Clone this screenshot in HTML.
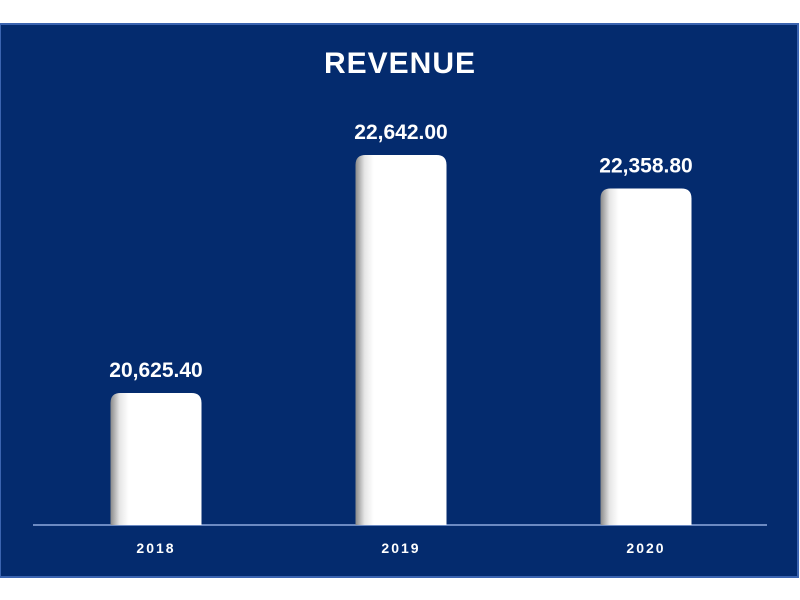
<!DOCTYPE html>
<html><head><meta charset="utf-8"><style>
html,body{margin:0;padding:0;background:#fff;width:800px;height:600px;overflow:hidden}
svg{display:block}
</style></head><body>
<svg width="800" height="600">
<defs>
<linearGradient id="barg" x1="0" x2="1" y1="0" y2="0">
<stop offset="0" stop-color="#8a8a8a"/><stop offset="0.1" stop-color="#e6e6e6"/><stop offset="0.2" stop-color="#fff"/><stop offset="1" stop-color="#fff"/>
</linearGradient>
</defs>
<rect x="0" y="24" width="798" height="553" fill="#042b6e" stroke="#3b64b0" stroke-width="2"/>
<text x="400" y="73" text-anchor="middle" fill="#fff" font-family="Liberation Sans, sans-serif" font-weight="bold" font-size="30" letter-spacing="1">REVENUE</text>
<line x1="33" y1="525" x2="767" y2="525" stroke="#8fa9de" stroke-width="1.5"/>
<g id="bars"></g>
</svg>
<script>
const categories=["2018","2019","2020"];
const values=[20625.40,22642.00,22358.80];
const labels=["20,625.40","22,642.00","22,358.80"];
const yMin=19506.8, baseY=525, k=0.118;
function y(v){return baseY-(v-yMin)*k;}
function xc(i){return 156+i*245;}
const g=document.getElementById('bars');
const ns="http://www.w3.org/2000/svg";
categories.forEach((c,i)=>{
  const top=y(values[i]),w=91,x=xc(i)-w/2;
  const p=document.createElementNS(ns,'path');
  const r=10;
  p.setAttribute('d',`M${x},${baseY} L${x},${top+r} Q${x},${top} ${x+r},${top} L${x+w-r},${top} Q${x+w},${top} ${x+w},${top+r} L${x+w},${baseY} Z`);
  p.setAttribute('fill','url(#barg)');
  
  
  g.appendChild(p);
  const t=document.createElementNS(ns,'text');
  t.setAttribute('x',xc(i));t.setAttribute('y',top-16);
  t.setAttribute('text-anchor','middle');t.setAttribute('fill','#fff');
  t.setAttribute('font-family','Liberation Sans, sans-serif');t.setAttribute('font-weight','bold');t.setAttribute('font-size','21');
  t.textContent=labels[i];
  
  
  g.appendChild(t);
  const l=document.createElementNS(ns,'text');
  l.setAttribute('x',xc(i));l.setAttribute('y',553);
  l.setAttribute('text-anchor','middle');l.setAttribute('fill','#fff');
  l.setAttribute('font-family','Liberation Sans, sans-serif');l.setAttribute('font-weight','bold');l.setAttribute('font-size','14');l.setAttribute('letter-spacing','2');
  l.textContent=c;
  
  
  g.appendChild(l);
});
</script>
</body></html>
